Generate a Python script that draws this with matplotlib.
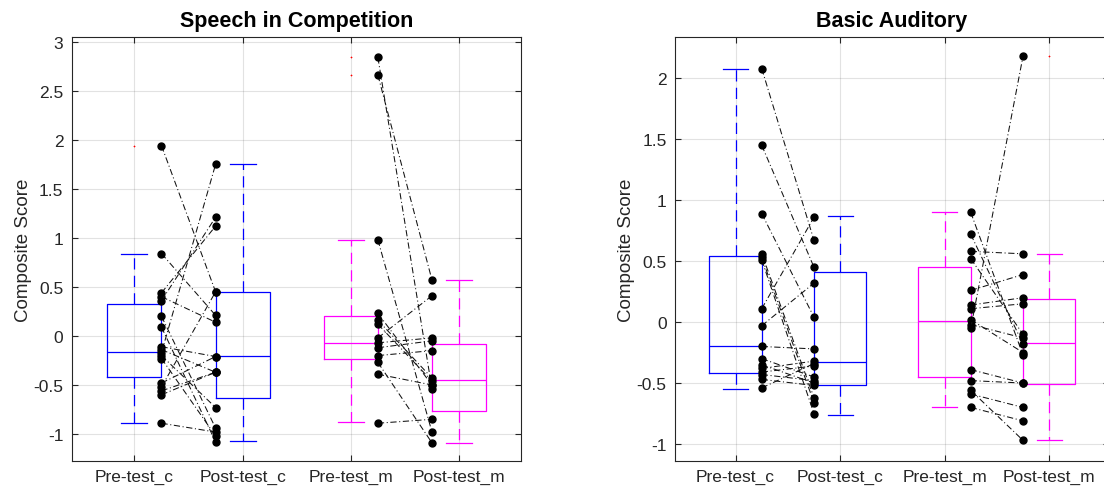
import matplotlib.pyplot as plt
from matplotlib.ticker import FuncFormatter

plt.rcParams["font.family"] = ["Liberation Sans", "DejaVu Sans"]

groups = ["Pre-test_c", "Post-test_c", "Pre-test_m", "Post-test_m"]

# Speech in Competition: paired subject scores
sic_pre_c = [1.94, 0.84, 0.44, 0.40, 0.36, 0.20, 0.09, -0.11, -0.14, -0.17, -0.20, -0.23, -0.48, -0.52, -0.56, -0.60, -0.89]
sic_post_c = [0.45, 0.21, 1.12, 0.14, 1.21, -0.94, -1.08, -0.21, -0.37, 1.75, -0.73, -1.02, -0.21, 0.45, -0.37, -0.37, -0.98]
sic_pre_m = [2.84, 2.66, 0.98, 0.23, 0.16, 0.12, -0.02, -0.07, -0.12, -0.20, -0.27, -0.39, -0.89]
sic_post_m = [-0.54, 0.57, -0.98, -0.50, -0.43, -0.46, 0.41, -0.02, -0.05, -0.15, -1.09, -0.50, -0.85]

# box summaries (median, q1, q3, whisker low/high, outliers)
sic_med = [-0.16, -0.20, -0.07, -0.45]
sic_q1 = [-0.42, -0.63, -0.24, -0.77]
sic_q3 = [0.33, 0.45, 0.20, -0.08]
sic_wlo = [-0.89, -1.07, -0.88, -1.09]
sic_whi = [0.84, 1.75, 0.98, 0.57]
sic_out = [[1.94], [], [2.84, 2.66], []]

# Basic Auditory
ba_pre_c = [2.08, 1.45, 0.89, 0.56, 0.53, 0.51, 0.11, -0.03, -0.20, -0.30, -0.35, -0.38, -0.41, -0.43, -0.47, -0.54]
ba_post_c = [0.67, 0.45, 0.04, -0.62, -0.66, -0.75, 0.86, 0.32, -0.22, -0.45, -0.50, -0.32, -0.36, -0.48, -0.52, -0.34]
ba_pre_m = [0.90, 0.72, 0.58, 0.52, 0.26, 0.14, 0.11, 0.02, -0.02, -0.05, -0.39, -0.48, -0.56, -0.59, -0.70]
ba_post_m = [-0.27, -0.18, 0.56, -0.10, 0.39, 0.20, 0.15, -0.25, -0.13, 2.18, -0.50, -0.50, -0.97, -0.70, -0.81]

ba_med = [-0.20, -0.33, 0.01, -0.17]
ba_q1 = [-0.42, -0.52, -0.45, -0.51]
ba_q3 = [0.54, 0.41, 0.45, 0.19]
ba_wlo = [-0.55, -0.76, -0.70, -0.97]
ba_whi = [2.08, 0.87, 0.90, 0.56]
ba_out = [[], [], [], [2.18]]

box_colors = ["blue", "blue", "magenta", "magenta"]


def draw_panel(ax, title, med, q1, q3, wlo, whi, out, pre_c, post_c, pre_m, post_m, ylim, yticks):
    stats = []
    for i in range(4):
        stats.append(dict(med=med[i], q1=q1[i], q3=q3[i], whislo=wlo[i], whishi=whi[i], fliers=out[i]))
    art = ax.bxp(stats, positions=[1, 2, 3, 4], widths=0.5, showfliers=True, patch_artist=False)
    for i, c in enumerate(box_colors):
        art["boxes"][i].set(color=c, linewidth=0.9)
        art["medians"][i].set(color=c, linewidth=0.9)
        for w in art["whiskers"][2 * i:2 * i + 2]:
            w.set(color=c, linewidth=0.9, linestyle=(0, (9, 5)))
        for cap in art["caps"][2 * i:2 * i + 2]:
            cap.set(color=c, linewidth=0.9)
            xd = cap.get_xdata()
            mid = (xd[0] + xd[1]) / 2
            cap.set_xdata([mid - 0.12, mid + 0.12])
        art["fliers"][i].set(marker="+", markeredgecolor="red", markersize=2, markeredgewidth=0.5)

    for a, b in zip(pre_c, post_c):
        ax.plot([1.25, 1.75], [a, b], color="#111111", linestyle=(0, (6, 2.5, 1, 2.5)), linewidth=0.75,
                marker="o", markersize=5, markerfacecolor="black", markeredgecolor="black", zorder=5)
    for a, b in zip(pre_m, post_m):
        ax.plot([3.25, 3.75], [a, b], color="#111111", linestyle=(0, (6, 2.5, 1, 2.5)), linewidth=0.75,
                marker="o", markersize=5, markerfacecolor="black", markeredgecolor="black", zorder=5)

    ax.set_xlim(0.42, 4.57)
    ax.set_ylim(*ylim)
    ax.set_xticks([1, 2, 3, 4])
    ax.set_xticklabels(groups)
    ax.set_yticks(yticks)
    ax.yaxis.set_major_formatter(FuncFormatter(lambda v, p: "%g" % v))
    ax.tick_params(direction="in", top=True, right=True, labelsize=12.5, length=4,
                   color="#262626", labelcolor="#262626", pad=6)
    ax.grid(True, color="#262626", alpha=0.13, linewidth=0.8)
    ax.set_axisbelow(True)
    for s in ax.spines.values():
        s.set_color("#262626")
        s.set_linewidth(0.8)
    ax.set_ylabel("Composite Score", fontsize=13.5, color="#262626", labelpad=1)
    ax.set_title(title, fontsize=15.5, fontweight="bold", pad=8)


fig = plt.figure(figsize=(11.04, 4.89), dpi=100)
ax1 = fig.add_axes([71.7 / 1104, 27.3 / 489, 449 / 1104, 423.4 / 489])
ax2 = fig.add_axes([675 / 1104, 27.3 / 489, 433.7 / 1104, 423.4 / 489])

draw_panel(ax1, "Speech in Competition", sic_med, sic_q1, sic_q3, sic_wlo, sic_whi, sic_out,
           sic_pre_c, sic_post_c, sic_pre_m, sic_post_m, (-1.272, 3.045),
           [-1, -0.5, 0, 0.5, 1, 1.5, 2, 2.5, 3])
draw_panel(ax2, "Basic Auditory", ba_med, ba_q1, ba_q3, ba_wlo, ba_whi, ba_out,
           ba_pre_c, ba_post_c, ba_pre_m, ba_post_m, (-1.137, 2.336),
           [-1, -0.5, 0, 0.5, 1, 1.5, 2])

fig.savefig("out.png", dpi=100)
